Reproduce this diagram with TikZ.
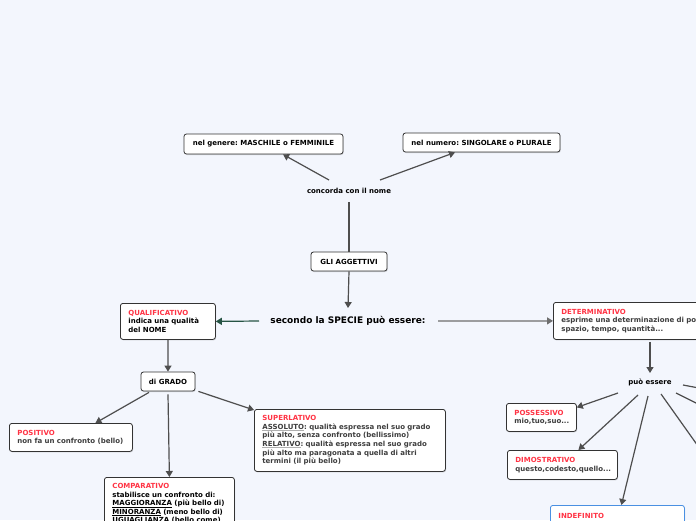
\documentclass[tikz,border=0pt]{standalone}
\usepackage{fontspec}
\setmainfont{DejaVu Sans}
\usetikzlibrary{arrows.meta,shadows}
\definecolor{bgc}{RGB}{243,246,253}
\definecolor{boxline}{RGB}{51,51,51}
\definecolor{edgec}{RGB}{78,78,78}
\definecolor{edgelight}{RGB}{110,110,110}
\definecolor{redc}{RGB}{255,51,68}
\definecolor{tgrey}{RGB}{62,62,62}
\definecolor{greenc}{RGB}{38,84,68}
\definecolor{bluec}{RGB}{74,144,226}
\definecolor{hlgrey}{RGB}{175,175,175}
\newlength\myulw
\newcommand\myul[3]{\settowidth{\myulw}{#3}\leavevmode\rlap{\color{#1}\rule[-1.7pt]{\myulw}{#2}}#3}
\newcommand\hd[1]{\textcolor{redc}{#1}}
\frenchspacing
\begin{document}
\begin{tikzpicture}[x=1pt,y=-1pt,
  every node/.style={font=\frenchspacing\bfseries\fontsize{7}{8.6}\selectfont},
  box/.style={draw=boxline, fill=white, rounded corners=2.5pt, line width=0.8pt,
    drop shadow={shadow xshift=0.7pt,shadow yshift=-1pt,opacity=0.3}},
  sbox/.style={box, inner sep=0pt, align=center},
  mbox/.style={box, align=left, inner xsep=8pt, inner ysep=0pt, anchor=north west},
  edge/.style={draw=edgec, line width=1.2pt, -{Triangle[length=6pt,width=7pt]}},
  plainedge/.style={draw=edgec, line width=1.2pt}]
\useasboundingbox (0,0) rectangle (696,520);
\clip (0,0) rectangle (696,520);
\fill[bgc] (0,0) rectangle (696,520);

% nodes
\node[sbox, minimum width=159pt, minimum height=20pt] (gen) at (263.5,144) {nel genere: MASCHILE o FEMMINILE};
\node[sbox, minimum width=157pt, minimum height=19pt] (num) at (481.5,142.5) {nel numero: SINGOLARE o PLURALE};
\node (conc) at (349,191) {concorda con il nome};
\node[sbox, minimum width=76pt, minimum height=19pt] (agg) at (349,261.5) {GLI AGGETTIVI};
\node[font=\frenchspacing\bfseries\fontsize{9}{10}\selectfont] (spec) at (348,321) {secondo la SPECIE può essere:};
\node[mbox, text width=79pt, minimum height=36pt] (qual) at (120,303)
  {\hd{QUALIFICATIVO}\\indica~una~qualità\\del~NOME};
\node[sbox, minimum width=54pt, minimum height=19pt] (grado) at (168,381.5) {di GRADO};
\node[mbox, text width=107pt, minimum height=28pt, text=tgrey] (pos) at (9,423)
  {\hd{POSITIVO}\\non~fa~un~confronto~(bello)};
\node[mbox, text width=175pt, minimum height=62pt, text=tgrey] (sup) at (254,409)
  {\hd{SUPERLATIVO}\\\myul{hlgrey}{1.1pt}{ASSOLUTO}:~qualità~espressa~nel~suo~grado\\più~alto,~senza~confronto~(bellissimo)\\\myul{hlgrey}{1.1pt}{RELATIVO}:~qualità~espressa~nel~suo~grado\\più~alto~ma~paragonata~a~quella~di~altri\\termini~(il~più~bello)};
\node[mbox, text width=114pt, minimum height=53pt] (comp) at (104,477)
  {\hd{COMPARATIVO}\\stabilisce~un~confronto~di:\\\myul{black}{0.7pt}{MAGGIORANZA}~(più~bello~di)\\\myul{black}{0.7pt}{MINORANZA}~(meno~bello~di)\\\myul{black}{0.7pt}{UGUAGLIANZA}~(bello~come)};
\node[mbox, text width=200pt, minimum height=37pt, text=tgrey] (det) at (553,302)
  {\hd{DETERMINATIVO}\\esprime~una~determinazione~di~po\\spazio,~tempo,~quantità...};
\node (pe) at (650,382) {può essere};
\node[mbox, text width=54pt, minimum height=28pt, text=tgrey] (poss) at (506,403)
  {\hd{POSSESSIVO}\\mio,tuo,suo...};
\node[mbox, text width=94pt, minimum height=29pt, text=tgrey] (dim) at (507,450)
  {\hd{DIMOSTRATIVO}\\questo,codesto,quello...};
\node[mbox, draw=bluec, text width=118pt, minimum height=22pt] (ind) at (550,505)
  {\hd{INDEFINITO}};

\coordinate (o1) at (720,392);
\coordinate (o2) at (720,415);
\coordinate (o3) at (720,477);

% connectors
\draw[edge] ([xshift=-20pt,yshift=11pt]conc.center) -- ([xshift=19.5pt]gen.south);
\draw[edge] ([xshift=31pt,yshift=11pt]conc.center) -- ([xshift=-26.5pt]num.south);
\draw[plainedge] (agg.north) -- ([yshift=-11pt]conc.center);
\draw[edge] (agg.south) -- ([yshift=13pt]spec.center);
\draw[edge, draw=greenc] ([xshift=-89pt]spec.center) -- (qual.east);
\draw[edge, draw=edgelight] ([xshift=90pt]spec.center) -- (det.west);
\draw[edge] (qual.south) -- (grado.north);
\draw[edge] ([xshift=-19pt,yshift=-1pt]grado.south) -- ([xshift=24.5pt]pos.north);
\draw[edge] ([yshift=-3pt]grado.south) -- (comp.north);
\draw[edge] ([xshift=3pt]grado.south east) -- ([yshift=-1pt]sup.north west);
\draw[edge] ([xshift=97pt,yshift=-2pt]det.south west) -- ([yshift=9pt]pe.center);
\draw[edge] ([xshift=-32pt,yshift=-11pt]pe.center) -- ([yshift=10pt]poss.east);
\draw[edge] ([xshift=-12pt,yshift=-13pt]pe.center) -- ([xshift=16pt]dim.north);
\draw[edge] ([xshift=-2pt,yshift=-14pt]pe.center) -- ([xshift=4pt]ind.north);
\draw[plainedge] ([xshift=33pt,yshift=-3pt]pe.center) -- (o1);
\draw[plainedge] ([xshift=26pt,yshift=-11pt]pe.center) -- (o2);
\draw[plainedge] ([xshift=11pt,yshift=-12pt]pe.center) -- (o3);
\end{tikzpicture}
\end{document}
